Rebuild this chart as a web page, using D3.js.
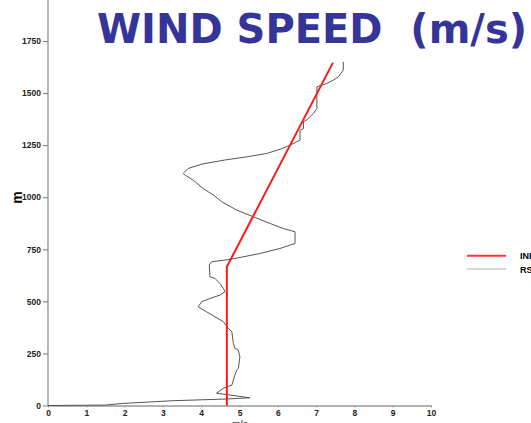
<!DOCTYPE html>
<html lang="en">
  <head>
    <meta charset="UTF-8">
    <title>Wind Speed</title>
    <script src="https://d3js.org/d3.v7.min.js"></script>
    <style>
      body { margin: 0; background: #fff; }
      svg { display: block; }
      .tick text { font-family: "Liberation Sans", Arial, sans-serif; font-size: 8.5px; font-weight: bold; fill: #222; }
    </style>
  </head>
  <body>
    <script>
      // m/s values and heights (m)
      const initialSpeed  = [4.67, 4.67, 7.44];
      const initialHeight = [0, 666, 1646];

      const sondeSpeed = [0, 1.5, 1.96, 3.26, 4.65, 5.27, 4.40, 4.58, 4.80, 4.88, 4.93, 4.97, 5.01, 4.97, 4.88,
                          4.84, 4.80, 4.71, 4.58, 4.36, 4.14, 3.92, 4.01, 4.23, 4.49, 4.62, 4.58, 4.49, 4.36,
                          4.23, 4.21, 4.27, 4.77, 5.54, 6.06, 6.45, 6.45, 6.14, 5.80, 5.36, 4.93, 4.54, 4.32,
                          4.05, 3.79, 3.58, 3.53, 3.66, 4.02, 4.60, 5.19, 5.71, 6.06, 6.32, 6.58, 6.58, 6.67,
                          6.67, 6.75, 6.84, 6.93, 7.02, 7.02, 7.28, 7.45, 7.58, 7.71, 7.71];
      const sondeHeight = [0, 2, 10, 23, 31, 37, 59, 83, 98, 146, 170, 178, 234, 266, 274,
                           298, 354, 370, 402, 426, 450, 474, 498, 514, 530, 546, 562, 586, 610,
                           618, 674, 690, 702, 730, 754, 778, 834, 850, 874, 906, 938, 978, 1010,
                           1042, 1082, 1106, 1114, 1138, 1159, 1178, 1194, 1210, 1230, 1250, 1274, 1322, 1330,
                           1362, 1370, 1386, 1402, 1426, 1530, 1546, 1562, 1578, 1610, 1650];

      const xTicks = [0, 1, 2, 3, 4, 5, 6, 7, 8, 9, 10];
      const yTicks = [0, 250, 500, 750, 1000, 1250, 1500, 1750];
      const legendLabels = ["INITIAL", "RSONDE"];

      const w = 531, h = 423;
      const x0 = 48, y0 = 405.5;

      const svg = d3.select("body").append("svg")
        .attr("width", w)
        .attr("height", h);

      const xScale = d3.scaleLinear().domain([0, 10]).range([x0, 431]);
      const yScale = d3.scaleLinear().domain([0, 1750]).range([y0, 41]);

      // y axis
      const yAxis = d3.axisLeft(yScale).tickValues(yTicks).tickFormat(d3.format("d"))
        .tickSize(5).tickSizeOuter(0).tickPadding(2);
      const gy = svg.append("g").attr("transform", `translate(${x0},0)`).call(yAxis);
      gy.select(".domain").remove();
      gy.selectAll(".tick line").attr("stroke", "#777");
      svg.append("line")
        .attr("x1", x0).attr("x2", x0)
        .attr("y1", 0).attr("y2", y0)
        .attr("stroke", "#888").attr("stroke-width", 1.2);

      // x axis
      const xAxis = d3.axisBottom(xScale).tickValues(xTicks).tickSize(2).tickSizeOuter(0).tickPadding(2);
      const gx = svg.append("g").attr("transform", `translate(0,${y0})`).call(xAxis);
      gx.select(".domain").attr("stroke", "#999").attr("stroke-width", 1.5);
      gx.selectAll(".tick line").attr("stroke", "#999");

      // axis titles
      svg.append("text")
        .attr("transform", "translate(22,197.5) rotate(-90)")
        .attr("text-anchor", "middle")
        .style("font-family", "Liberation Sans, Arial, sans-serif")
        .style("font-size", "14px")
        .style("font-weight", "bold")
        .text("m");

      svg.append("text")
        .attr("x", 240).attr("y", 427)
        .attr("text-anchor", "middle")
        .style("font-family", "Liberation Sans, Arial, sans-serif")
        .style("font-size", "9px")
        .style("font-weight", "bold")
        .style("fill", "#444")
        .text("m/s");

      const line = d3.line()
        .x(d => xScale(d[0]))
        .y(d => yScale(d[1]));

      // radiosonde profile
      svg.append("path")
        .datum(d3.zip(sondeSpeed, sondeHeight))
        .attr("d", line)
        .attr("fill", "none")
        .attr("stroke", "#555")
        .attr("stroke-width", 1);

      // initial profile
      svg.append("path")
        .datum(d3.zip(initialSpeed, initialHeight))
        .attr("d", line)
        .attr("fill", "none")
        .attr("stroke", "#ff1a1a")
        .attr("stroke-width", 2);

      // legend
      const legColors = ["#ff3333", "#c8c8c8"];
      const leg = svg.selectAll(".leg")
        .data(legendLabels)
        .enter().append("g")
        .attr("class", "leg")
        .attr("transform", (d, i) => `translate(467,${255.7 + i * 13.3})`);
      leg.append("line")
        .attr("x1", 0).attr("x2", 39)
        .attr("stroke", (d, i) => legColors[i])
        .attr("stroke-width", (d, i) => i === 0 ? 2 : 1.5);
      leg.append("text")
        .attr("x", 53).attr("y", 3.5)
        .style("font-family", "Liberation Sans, Arial, sans-serif")
        .style("font-size", "9px")
        .style("font-weight", "bold")
        .text(d => d);

      // title
      svg.append("text")
        .attr("x", 97).attr("y", 43)
        .attr("textLength", 430)
        .attr("lengthAdjust", "spacingAndGlyphs")
        .style("font-family", "'Comic Sans MS', 'DejaVu Sans', sans-serif")
        .style("font-size", "41px")
        .style("font-weight", "bold")
        .style("fill", "#353599")
        .style("white-space", "pre")
        .text("WIND SPEED  (m/s)");
    </script>
  </body>
</html>
